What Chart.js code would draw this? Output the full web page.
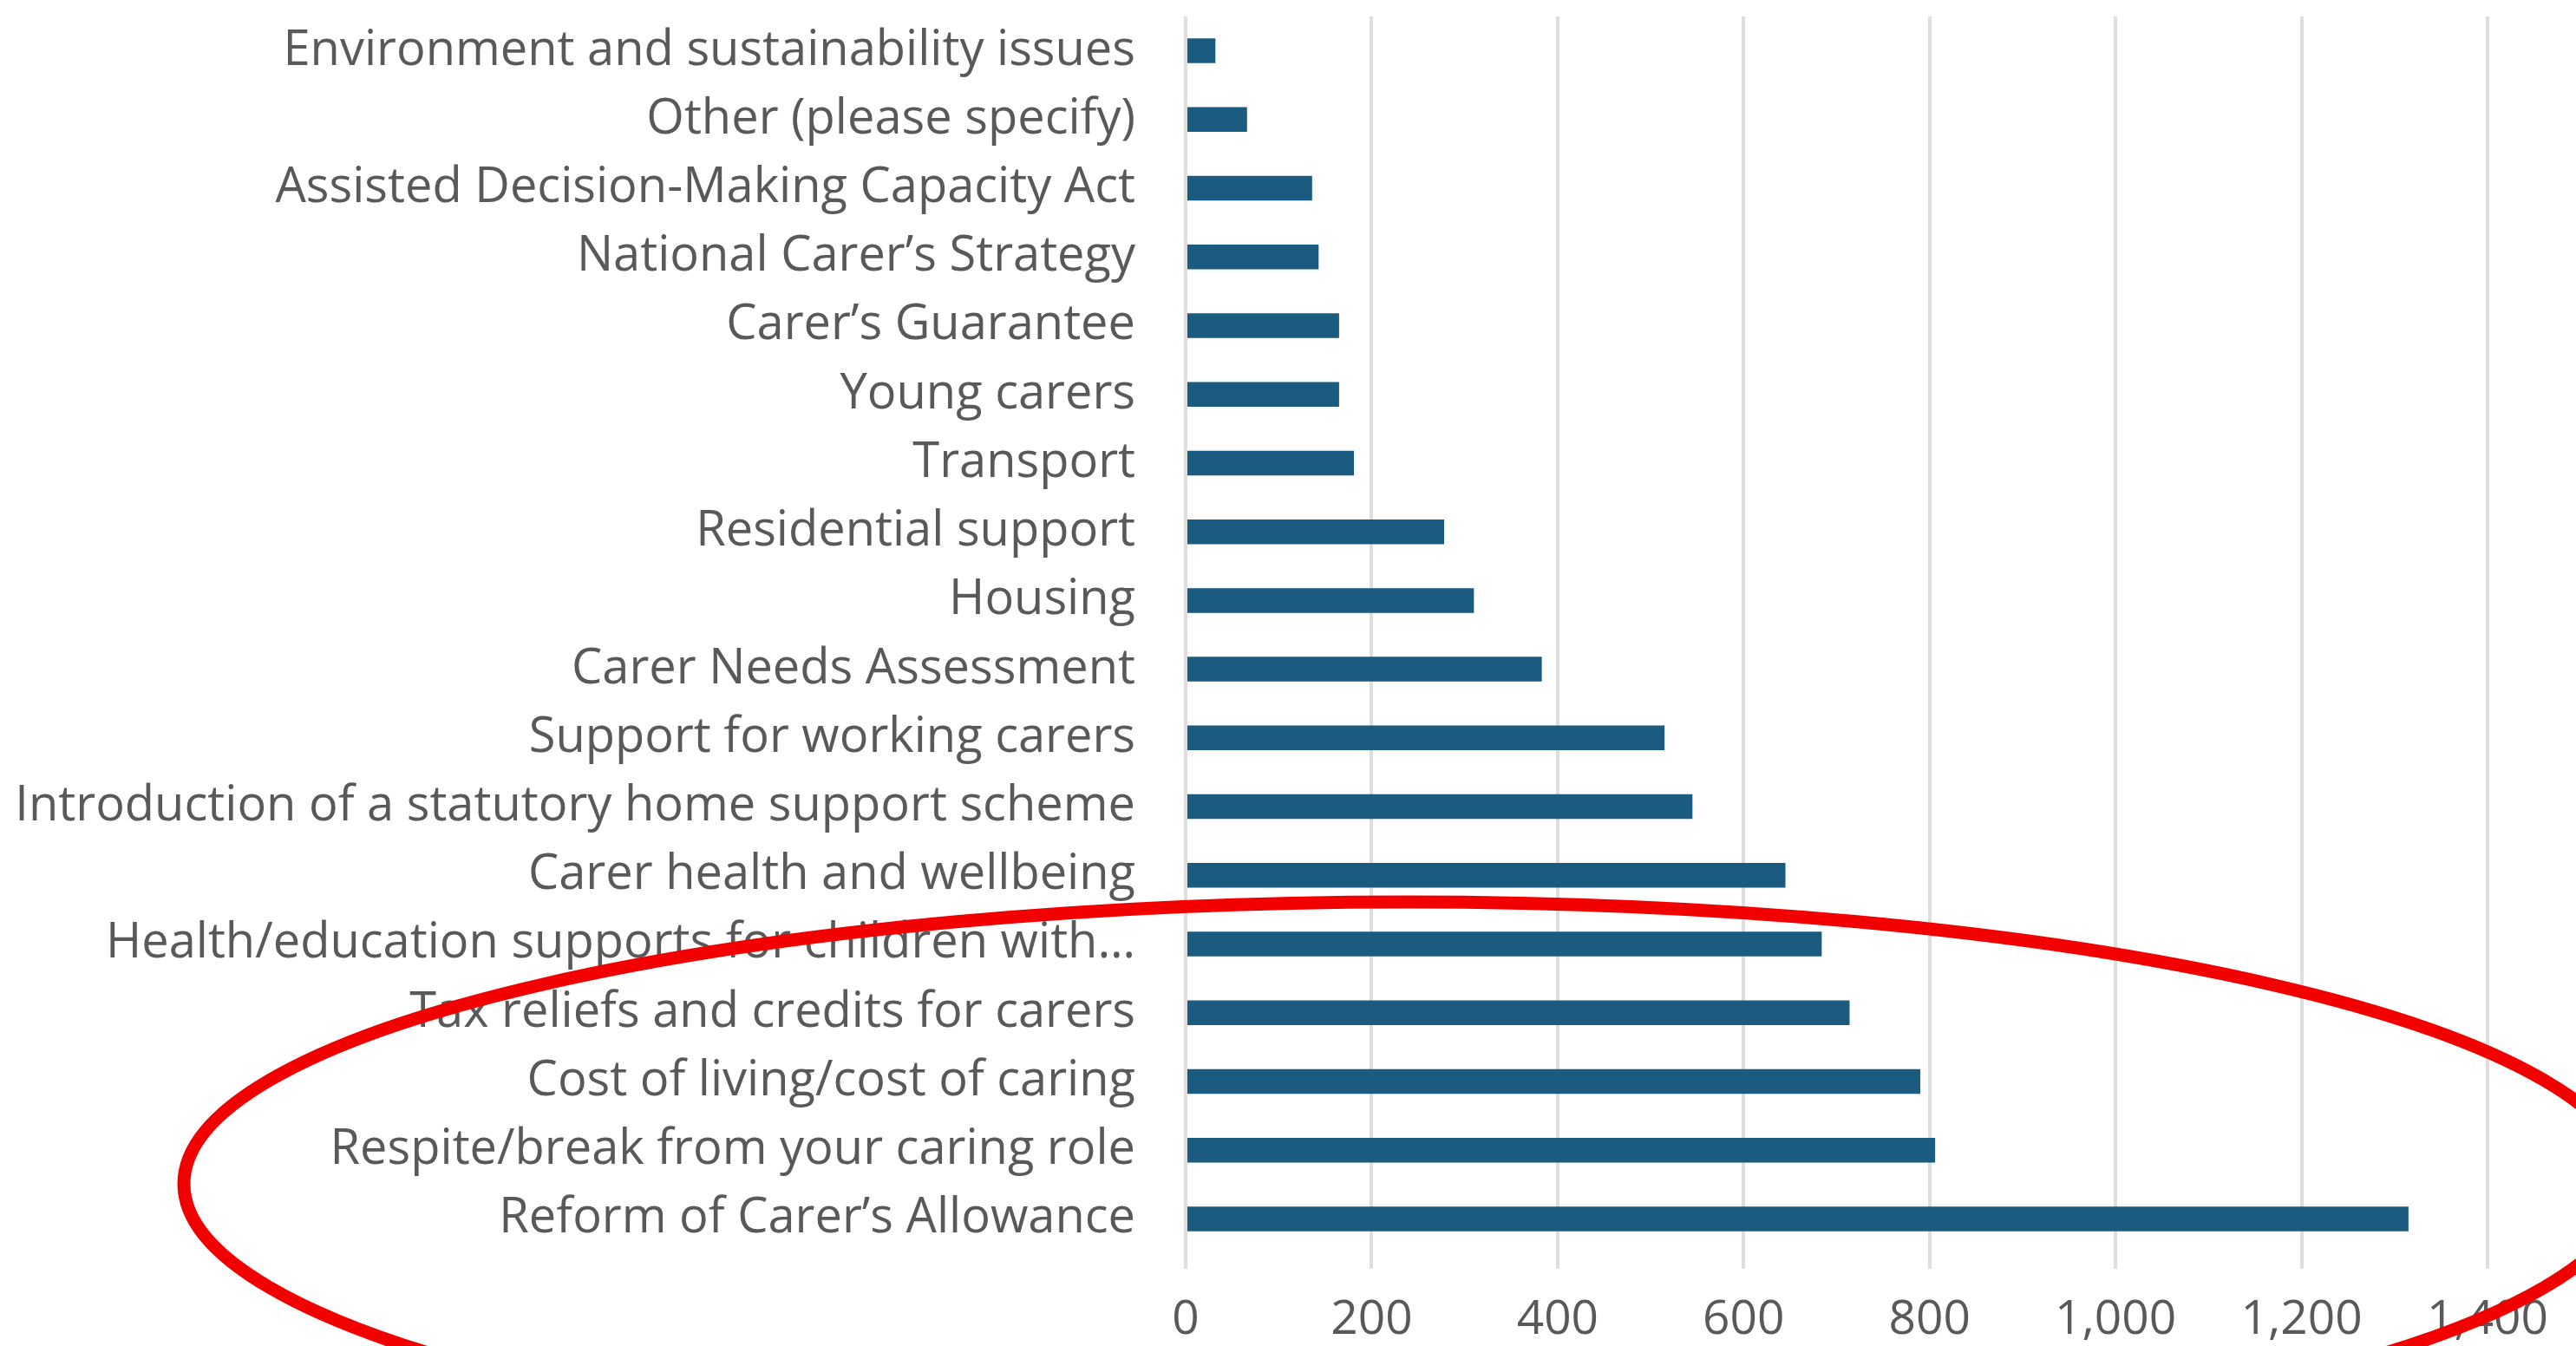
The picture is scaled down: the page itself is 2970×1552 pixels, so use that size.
<!DOCTYPE html>
<html>
<head>
<meta charset="utf-8">
<script src="https://cdn.jsdelivr.net/npm/chart.js@4.4.1/dist/chart.umd.min.js"></script>
<style>
  html, body { margin: 0; padding: 0; background: #ffffff; }
  #wrap { width: 2970px; height: 1552px; }
</style>
</head>
<body>
<div id="wrap"><canvas id="chart" width="2970" height="1552"></canvas></div>
<script>
// categories top to bottom, as in the survey chart
const categories = [
  'Environment and sustainability issues',
  'Other (please specify)',
  'Assisted Decision-Making Capacity Act',
  'National Carer\u2019s Strategy',
  'Carer\u2019s Guarantee',
  'Young carers',
  'Transport',
  'Residential support',
  'Housing',
  'Carer Needs Assessment',
  'Support for working carers',
  'Introduction of a statutory home support scheme',
  'Carer health and wellbeing',
  'Health/education supports for children with\u2026',
  'Tax reliefs and credits for carers',
  'Cost of living/cost of caring',
  'Respite/break from your caring role',
  'Reform of Carer\u2019s Allowance'
];

const responses = [32, 66, 136, 143, 165, 165, 181, 278, 310, 383, 515, 545, 645, 684, 714, 790, 806, 1315];

const xTicks = [0, 200, 400, 600, 800, 1000, 1200, 1400];

const barColor = '#1B5B80';
const textColor = '#595959';
const gridColor = '#dedede';

// red hand-drawn ring round the top items
const ringPlugin = {
  id: 'ring',
  afterDatasetsDraw(chart) {
    const ctx = chart.ctx;
    ctx.save();
    ctx.beginPath();
    ctx.ellipse(1622, 1365, 1410, 325, 0, 0, Math.PI * 2);
    ctx.strokeStyle = '#f20000';
    ctx.lineWidth = 15;
    ctx.stroke();
    ctx.restore();
  }
};

new Chart(document.getElementById('chart'), {
  type: 'bar',
  data: {
    labels: categories,
    datasets: [{
      data: responses,
      backgroundColor: barColor,
      borderWidth: 0,
      barPercentage: 0.36,
      categoryPercentage: 1.0
    }]
  },
  options: {
    indexAxis: 'y',
    responsive: false,
    animation: false,
    layout: { padding: { top: 19, right: 83, left: 0, bottom: 0 } },
    plugins: {
      legend: { display: false },
      tooltip: { enabled: false }
    },
    scales: {
      x: {
        min: 0,
        max: 1400,
        afterBuildTicks: (scale) => {
          scale.ticks = xTicks.map(v => ({ value: v }));
        },
        afterFit: (scale) => { scale.height = 107; },
        grid: {
          color: gridColor,
          lineWidth: 4,
          tickLength: 18,
          tickColor: gridColor
        },
        border: { display: false },
        ticks: {
          color: textColor,
          padding: 32,
          font: { family: 'Open Sans', size: 55, lineHeight: 1 },
          callback: (v) => Number(v).toLocaleString('en-US')
        }
      },
      y: {
        afterFit: (scale) => { scale.width = 1367; },
        // tick marks hidden, their length only pushes the labels off the bars
        grid: { display: false, drawTicks: true, tickLength: 58 },
        border: { display: false },
        ticks: {
          color: textColor,
          padding: 0,
          autoSkip: false,
          font: { family: 'Open Sans', size: 56, lineHeight: 0.6 }
        }
      }
    }
  },
  plugins: [ringPlugin]
});
</script>
</body>
</html>
